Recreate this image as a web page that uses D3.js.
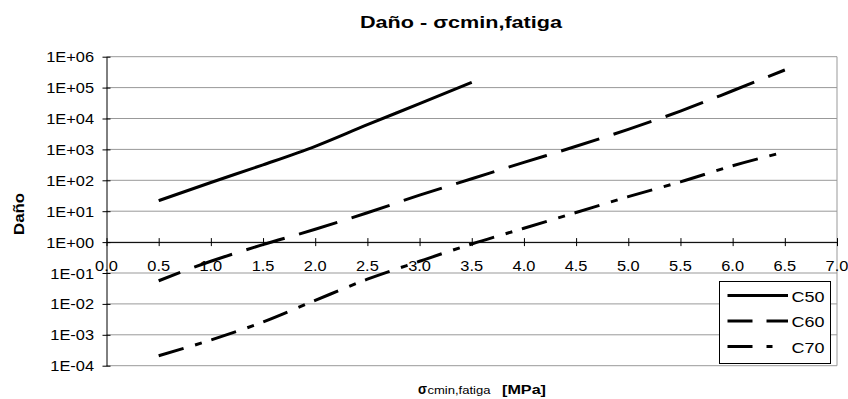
<!DOCTYPE html>
<html>
<head>
<meta charset="utf-8">
<script src="https://cdn.jsdelivr.net/npm/d3@7"></script>
<style>
  html, body { margin: 0; padding: 0; background: #fff; }
  svg { display: block; }
  text { font-family: "Liberation Sans", Arial, sans-serif; fill: #000; }
</style>
</head>
<body>
<svg id="chart" width="848" height="399"></svg>
<script>
// ---------- data ----------
const titleText = "Daño - σcmin,fatiga";
const yAxisTitle = "Daño";
const xAxisSymbol = "σ";
const xAxisSub = "cmin,fatiga";
const xAxisUnit = "[MPa]";

const xC50 = [0.5, 1.0, 1.5, 2.0, 2.5, 3.0, 3.5];
const xC60 = [0.5, 1.0, 1.5, 2.0, 2.5, 3.0, 3.5, 4.0, 4.5, 5.0, 5.5, 6.0, 6.5];
const xC70 = [0.5, 1.0, 1.5, 2.0, 2.5, 3.0, 3.5, 4.0, 4.5, 5.0, 5.5, 6.0, 6.5];

const c50 = [22, 85, 316, 1260, 6300, 30200, 148000];
const c60 = [0.056, 0.24, 0.83, 2.6, 8.9, 33, 112, 380, 1260, 4470, 17400, 79000, 372000];
const c70 = [0.00021, 0.00068, 0.0026, 0.013, 0.063, 0.24, 0.87, 2.8, 9.1, 29.5, 89, 295, 830];

const seriesNames = ["C50", "C60", "C70"];

const yTickValues = [1e-4, 1e-3, 1e-2, 1e-1, 1e0, 1e1, 1e2, 1e3, 1e4, 1e5, 1e6];
const yTickLabels = ["1E-04", "1E-03", "1E-02", "1E-01", "1E+00", "1E+01", "1E+02", "1E+03", "1E+04", "1E+05", "1E+06"];
const xTickValues = [0, 0.5, 1, 1.5, 2, 2.5, 3, 3.5, 4, 4.5, 5, 5.5, 6, 6.5, 7];
const xTickLabels = ["0.0", "0.5", "1.0", "1.5", "2.0", "2.5", "3.0", "3.5", "4.0", "4.5", "5.0", "5.5", "6.0", "6.5", "7.0"];

// ---------- layout ----------
const plot = { left: 106.5, right: 837, top: 56.7, bottom: 365.7 };
const svg = d3.select("#chart");

const x = d3.scaleLinear().domain([0, 7]).range([plot.left, plot.right]);
const y = d3.scaleLog().domain([1e-4, 1e6]).range([plot.bottom, plot.top]);

const K = 1.17; // horizontal glyph stretch of the source picture

function addText(parent, str, px, py, opts) {
  const o = Object.assign({ size: 14, weight: "normal", anchor: "start", k: K, length: null }, opts || {});
  const t = parent.append("text")
    .attr("x", px).attr("y", py)
    .attr("font-size", o.size)
    .attr("font-weight", o.weight)
    .attr("text-anchor", "start")
    .text(str);
  const natural = t.node().getComputedTextLength();
  const len = o.length != null ? o.length : natural * o.k;
  t.attr("textLength", len).attr("lengthAdjust", "spacingAndGlyphs");
  let sx = px;
  if (o.anchor === "middle") sx = px - len / 2;
  else if (o.anchor === "end") sx = px - len;
  t.attr("x", sx);
  return t;
}

// gridlines
svg.append("g").selectAll("line").data(yTickValues).join("line")
  .attr("x1", plot.left).attr("x2", plot.right)
  .attr("y1", d => y(d)).attr("y2", d => y(d))
  .attr("stroke", "#999").attr("stroke-width", 1);

// right border of plot area
svg.append("line")
  .attr("x1", plot.right).attr("x2", plot.right)
  .attr("y1", plot.top).attr("y2", plot.bottom)
  .attr("stroke", "#999").attr("stroke-width", 1);

// y axis
const yAxis = d3.axisLeft(y).tickValues(yTickValues).tickFormat(() => "").tickSizeInner(4).tickSizeOuter(0);
const yAxisG = svg.append("g").attr("transform", `translate(${plot.left},0)`).call(yAxis);
yAxisG.select(".domain").attr("stroke", "#000");
yAxisG.selectAll(".tick line").attr("stroke", "#000").attr("x2", -4).attr("x1", 4);

// x axis placed at y = 1
const xAxis = d3.axisBottom(x).tickValues(xTickValues).tickFormat(() => "").tickSizeInner(4).tickSizeOuter(0);
const xAxisG = svg.append("g").attr("transform", `translate(0,${y(1)})`).call(xAxis);
xAxisG.select(".domain").attr("stroke", "#000");
xAxisG.selectAll(".tick line").attr("stroke", "#000").attr("y1", -4).attr("y2", 4);

// tick labels
const labelsG = svg.append("g");
yTickValues.forEach((v, i) => addText(labelsG, yTickLabels[i], 94, y(v) + 5.5, { anchor: "end" }));
xTickValues.forEach((v, i) => addText(labelsG, xTickLabels[i], x(v), y(1) + 29, { anchor: "middle" }));

// series
const line = d3.line().x(d => x(d[0])).y(d => y(d[1])).curve(d3.curveMonotoneX);
const series = [
  { name: seriesNames[0], xs: xC50, ys: c50, dash: null, offset: 0, legendDash: null },
  { name: seriesNames[1], xs: xC60, ys: c60, dash: "40,15", offset: 17, legendDash: "25,14" },
  { name: seriesNames[2], xs: xC70, ys: c70, dash: "26,12,7,10", offset: 0, legendDash: "25,14,6,40" }
];
const linesG = svg.append("g");
series.forEach(s => {
  linesG.append("path")
    .datum(s.xs.map((xv, i) => [xv, s.ys[i]]))
    .attr("d", line)
    .attr("fill", "none")
    .attr("stroke", "#000")
    .attr("stroke-width", 3)
    .attr("stroke-dasharray", s.dash)
    .attr("stroke-dashoffset", s.offset);
});

// title
addText(svg, titleText, 360, 28, { size: 16, weight: "bold", length: 202 });

// y axis title
const yt = svg.append("g").attr("transform", "translate(24,214) rotate(-90)");
addText(yt, yAxisTitle, 0, 0, { size: 15, weight: "bold", anchor: "middle", length: 42 });

// x axis title
addText(svg, xAxisSymbol, 418, 394, { size: 14, weight: "bold", length: 9 });
addText(svg, xAxisSub, 427.5, 394, { size: 11, length: 63 });
addText(svg, xAxisUnit, 502, 394, { size: 13, weight: "bold", length: 44 });

// legend
const lg = svg.append("g");
lg.append("rect").attr("x", 719.5).attr("y", 281.5).attr("width", 111).attr("height", 82)
  .attr("fill", "#fff").attr("stroke", "#000").attr("stroke-width", 1);
const legendY = d3.scalePoint().domain(seriesNames).range([295.5, 346.5]);
series.forEach(s => {
  const ly = legendY(s.name);
  lg.append("line").attr("x1", 727.5).attr("x2", 788).attr("y1", ly).attr("y2", ly)
    .attr("stroke", "#000").attr("stroke-width", 3)
    .attr("stroke-dasharray", s.legendDash);
  addText(lg, s.name, 791.5, ly + 6, { size: 15, length: 33 });
});
</script>
</body>
</html>
